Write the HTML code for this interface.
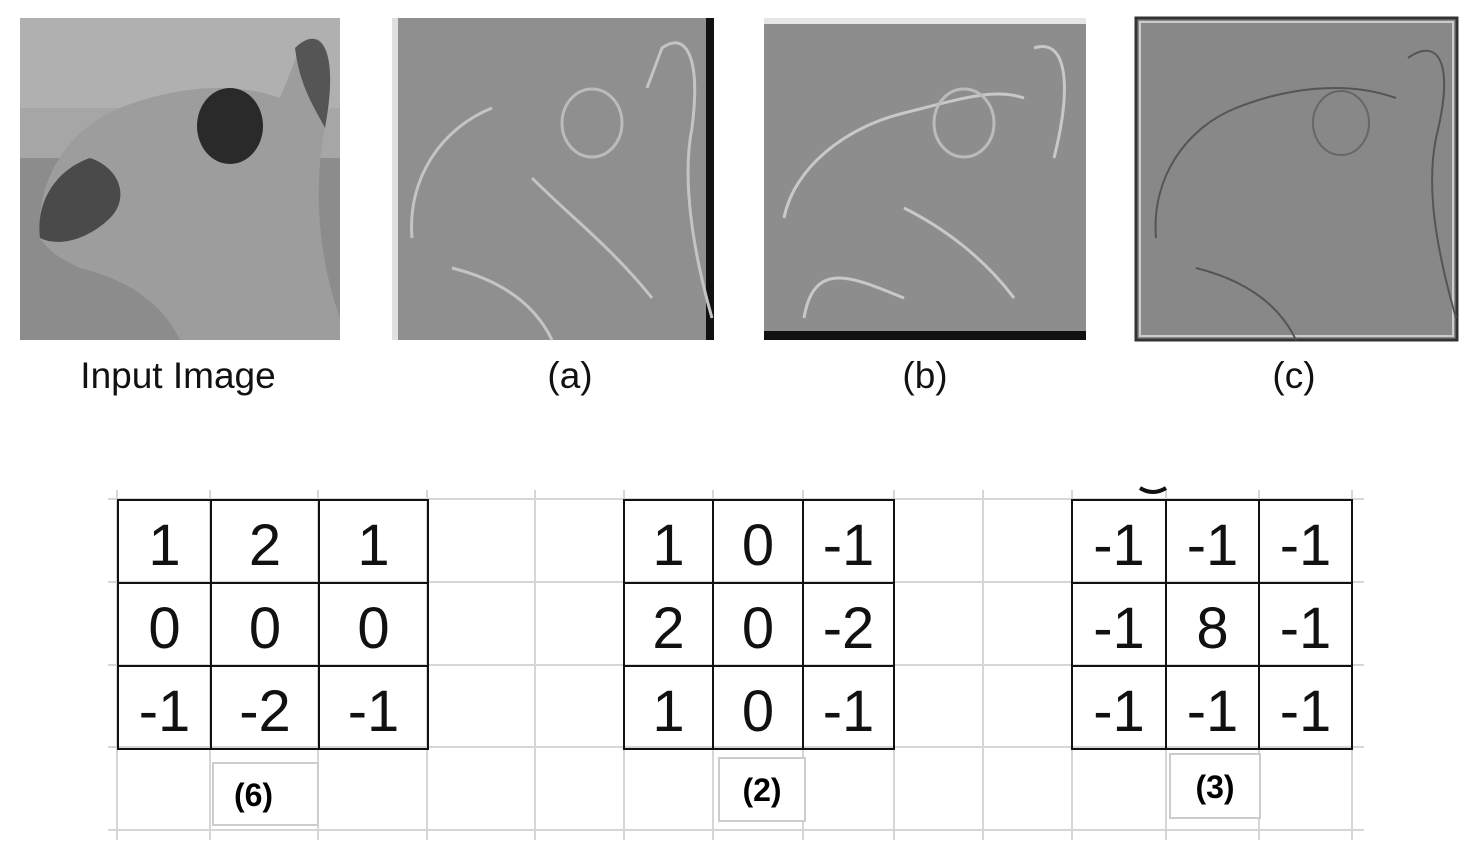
<!DOCTYPE html>
<html><head><meta charset="utf-8">
<style>
html,body{margin:0;padding:0;background:#fff;}
body{width:1476px;height:858px;position:relative;overflow:hidden;font-family:"Liberation Sans",sans-serif;}
.cap{position:absolute;font-size:37px;color:#111;text-align:center;width:340px;top:355px;}
.k{position:absolute;border-collapse:collapse;}
.k td{border:2px solid #111;text-align:center;font-size:58px;padding:7px 0 0 0;color:#111;box-sizing:border-box;}
.lab{position:absolute;border:2px solid #ccc;font-size:32px;font-weight:bold;text-align:center;box-sizing:border-box;background:#fff;}
</style></head><body>
<svg width="1476" height="858" style="position:absolute;left:0;top:0">
  <g stroke="#d6d6d6" stroke-width="2">
    <line x1="108" y1="499" x2="1364" y2="499"/>
    <line x1="108" y1="582" x2="1364" y2="582"/>
    <line x1="108" y1="665" x2="1364" y2="665"/>
    <line x1="108" y1="747" x2="1364" y2="747"/>
    <line x1="108" y1="830" x2="1364" y2="830"/>
    <line x1="117" y1="490" x2="117" y2="840"/><line x1="210" y1="490" x2="210" y2="840"/>
    <line x1="318" y1="490" x2="318" y2="840"/><line x1="427" y1="490" x2="427" y2="840"/>
    <line x1="535" y1="490" x2="535" y2="840"/><line x1="624" y1="490" x2="624" y2="840"/>
    <line x1="713" y1="490" x2="713" y2="840"/><line x1="803" y1="490" x2="803" y2="840"/>
    <line x1="894" y1="490" x2="894" y2="840"/><line x1="983" y1="490" x2="983" y2="840"/>
    <line x1="1072" y1="490" x2="1072" y2="840"/><line x1="1166" y1="490" x2="1166" y2="840"/>
    <line x1="1259" y1="490" x2="1259" y2="840"/><line x1="1352" y1="490" x2="1352" y2="840"/>
  </g>
  <path d="M1140 488 Q1153 496 1166 488" stroke="#111" stroke-width="4" fill="none"/>

  <g transform="translate(20,18)">
    <rect width="320" height="322" fill="#8c8c8c"/>
    <rect width="320" height="130" fill="#b0b0b0"/>
    <rect y="90" width="320" height="50" fill="#a6a6a6"/>
    <path d="M20 220 C15 160 50 110 100 90 C150 70 210 62 260 80 L280 30 C300 5 320 30 305 110 C295 160 295 230 320 300 L320 322 L160 322 C140 280 100 260 60 250 C40 240 30 235 20 220 Z" fill="#9d9d9d"/>
    <path d="M20 220 C15 180 40 150 70 140 C100 150 110 180 90 200 C70 220 40 230 20 220Z" fill="#4a4a4a"/>
    <ellipse cx="210" cy="108" rx="33" ry="38" fill="#2a2a2a"/>
    <path d="M275 30 C300 5 320 30 305 110 C295 90 280 70 275 30Z" fill="#555"/>
  </g>
  <g transform="translate(392,18)">
    <rect width="322" height="322" fill="#8f8f8f"/>
    <rect width="6" height="322" fill="#e0e0e0"/><rect x="314" width="8" height="322" fill="#111"/>
    <path d="M20 220 C15 160 50 110 100 90 M255 70 L270 30 C290 15 310 30 300 110 C290 160 300 230 320 300 M60 250 C100 260 140 280 160 322 M140 160 C180 200 220 230 260 280" stroke="#c4c4c4" stroke-width="3" fill="none"/>
    <ellipse cx="200" cy="105" rx="30" ry="34" stroke="#bbb" stroke-width="3" fill="none"/>
  </g>
  <g transform="translate(764,18)">
    <rect width="322" height="322" fill="#8d8d8d"/>
    <rect width="322" height="6" fill="#e6e6e6"/><rect y="313" width="322" height="9" fill="#111"/>
    <path d="M20 200 C30 150 80 110 140 95 C200 80 230 70 260 80 M270 30 C300 20 310 60 290 140 M40 300 C50 240 90 260 140 280 M140 190 C180 210 220 240 250 280" stroke="#c8c8c8" stroke-width="3" fill="none"/>
    <ellipse cx="200" cy="105" rx="30" ry="34" stroke="#bbb" stroke-width="3" fill="none"/>
  </g>
  <g transform="translate(1136,18)">
    <rect width="321" height="322" fill="#888" stroke="#333" stroke-width="3"/>
    <rect x="4" y="4" width="313" height="314" fill="none" stroke="#ccc" stroke-width="2"/>
    <path d="M20 220 C15 160 50 110 100 90 C150 70 210 62 260 80 M272 40 C300 20 320 40 300 120 C290 170 300 230 320 300 M60 250 C100 260 140 280 160 322" stroke="#555" stroke-width="2" fill="none"/>
    <ellipse cx="205" cy="105" rx="28" ry="32" stroke="#666" stroke-width="2" fill="none"/>
  </g>
</svg>

<div class="cap" style="left:8px">Input Image</div>
<div class="cap" style="left:400px">(a)</div>
<div class="cap" style="left:755px">(b)</div>
<div class="cap" style="left:1124px">(c)</div>

<table class="k" style="left:117px;top:499px">
<tr style="height:83px"><td style="width:93px">1</td><td style="width:108px">2</td><td style="width:109px">1</td></tr>
<tr style="height:83px"><td>0</td><td>0</td><td>0</td></tr>
<tr style="height:83px"><td>-1</td><td>-2</td><td>-1</td></tr>
</table>
<table class="k" style="left:623px;top:499px">
<tr style="height:83px"><td style="width:89px">1</td><td style="width:90px">0</td><td style="width:91px">-1</td></tr>
<tr style="height:83px"><td>2</td><td>0</td><td>-2</td></tr>
<tr style="height:83px"><td>1</td><td>0</td><td>-1</td></tr>
</table>
<table class="k" style="left:1071px;top:499px">
<tr style="height:83px"><td style="width:94px">-1</td><td style="width:93px">-1</td><td style="width:93px">-1</td></tr>
<tr style="height:83px"><td>-1</td><td>8</td><td>-1</td></tr>
<tr style="height:83px"><td>-1</td><td>-1</td><td>-1</td></tr>
</table>

<div class="lab" style="left:212px;top:762px;width:107px;height:64px;line-height:62px;padding-right:24px">(6)</div>
<div class="lab" style="left:718px;top:757px;width:88px;height:65px;line-height:63px">(2)</div>
<div class="lab" style="left:1169px;top:753px;width:92px;height:66px;line-height:64px">(3)</div>
</body></html>
